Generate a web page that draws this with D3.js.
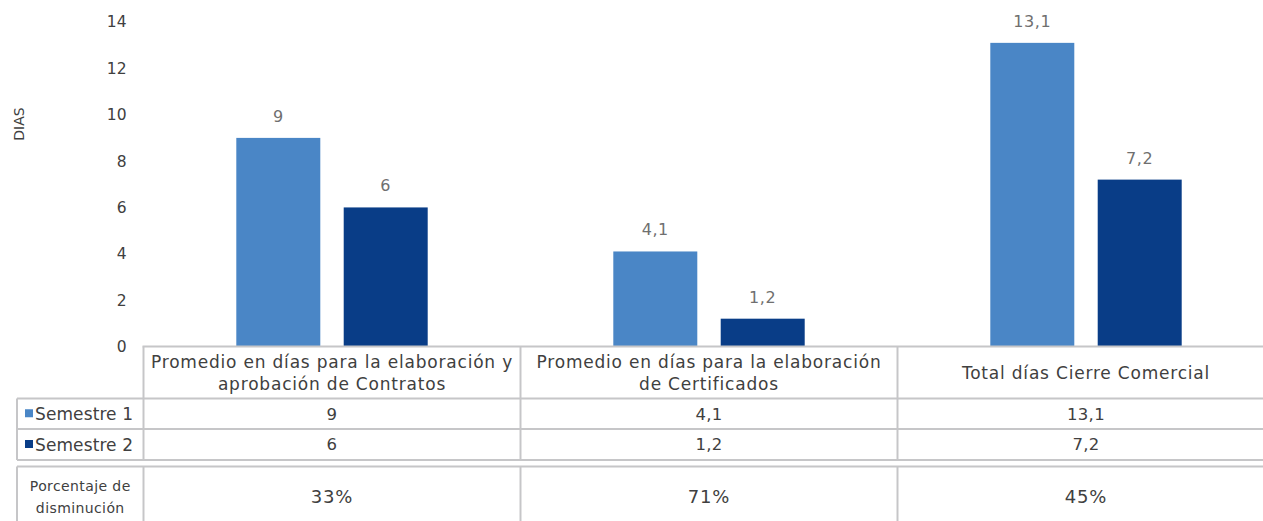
<!DOCTYPE html>
<html>
<head>
<meta charset="utf-8">
<script src="https://cdn.jsdelivr.net/npm/d3@7"></script>
<style>
  html, body { margin: 0; padding: 0; background: #fff; }
  svg { display: block; font-family: "DejaVu Sans", sans-serif; }
</style>
</head>
<body>
<svg id="chart" width="1263" height="521"></svg>
<script>
// data
const categories = [
  ["Promedio en días para la elaboración y", "aprobación de Contratos"],
  ["Promedio en días para la elaboración", "de Certificados"],
  ["Total días Cierre Comercial"]
]
const seriesNames = ["Semestre 1", "Semestre 2"]
const semestre1 = [9, 4.1, 13.1]
const semestre2 = [6, 1.2, 7.2]
const decrease = ["33%", "71%", "45%"]
const yTicks = [0, 2, 4, 6, 8, 10, 12, 14]

const colors = ["#4a86c6", "#093d87"]
const gridColor = "#c6c6c8"
const textColor = "#404040"
const labelColor = "#6f6f6f"

const svg = d3.select("#chart")
const fmt = v => String(v).replace(".", ",")

const dims = {
  left: 143.5,
  right: 1274.5,
  top: 22,
  zero: 346.5,
  tableLeft: 17,
  headerBottom: 398.5,
  row1Bottom: 429,
  row2Bottom: 460,
  table2Top: 466.5,
  table2Bottom: 530
}

const catIdx = categories.map((d, i) => i)
const xScale = d3.scaleBand()
  .domain(catIdx)
  .range([dims.left, dims.right])
  .padding(0)

const xInner = d3.scaleBand()
  .domain(seriesNames)
  .range([0, xScale.bandwidth()])
  .paddingInner(0.218)
  .paddingOuter(0.864)

const yScale = d3.scaleLinear()
  .domain([0, 14])
  .range([dims.zero, dims.top])

// y axis
const yAxis = svg.append("g")
  .attr("transform", `translate(${dims.left},0)`)
  .call(d3.axisLeft(yScale).tickValues(yTicks).tickSize(0).tickPadding(17).tickFormat(d => d))
yAxis.select(".domain").remove()
yAxis.selectAll("text")
  .attr("fill", textColor)
  .style("font-size", "15.5px")
  .style("font-family", "DejaVu Sans, sans-serif")

svg.append("text")
  .attr("transform", `translate(24,124) rotate(-90)`)
  .attr("text-anchor", "middle")
  .attr("fill", textColor)
  .style("font-size", "14px")
  .text("DIAS")

// bars
const seriesData = [semestre1, semestre2]
seriesData.forEach((values, s) => {
  const g = svg.append("g")
  g.selectAll("rect")
    .data(values)
    .join("rect")
      .attr("x", (d, i) => xScale(i) + xInner(seriesNames[s]))
      .attr("y", d => yScale(d))
      .attr("width", xInner.bandwidth())
      .attr("height", d => yScale(0) - yScale(d))
      .attr("fill", colors[s])

  g.selectAll("text")
    .data(values)
    .join("text")
      .attr("x", (d, i) => xScale(i) + xInner(seriesNames[s]) + xInner.bandwidth() / 2)
      .attr("y", d => yScale(d) - 16)
      .attr("text-anchor", "middle")
      .attr("fill", labelColor)
      .style("font-size", "16px")
      .style("letter-spacing", "0.6px")
      .text(d => fmt(d))
})

// data table
const lines = svg.append("g")
  .attr("stroke", gridColor)
  .attr("stroke-width", 2)
  .attr("fill", "none")

const hLine = (x1, x2, y) => lines.append("line").attr("x1", x1).attr("x2", x2).attr("y1", y).attr("y2", y)
const vLine = (x, y1, y2) => lines.append("line").attr("x1", x).attr("x2", x).attr("y1", y1).attr("y2", y2)

hLine(dims.left - 1, dims.right, dims.zero)
hLine(dims.tableLeft, dims.right, dims.headerBottom)
hLine(dims.tableLeft, dims.right, dims.row1Bottom)
hLine(dims.tableLeft, dims.right, dims.row2Bottom)
hLine(dims.tableLeft, dims.right, dims.table2Top)
vLine(dims.tableLeft, dims.headerBottom, dims.row2Bottom)
vLine(dims.tableLeft, dims.table2Top, dims.table2Bottom)
catIdx.forEach(i => {
  vLine(xScale(i), dims.zero, dims.row2Bottom)
  vLine(xScale(i), dims.table2Top, dims.table2Bottom)
})

// header row
const header = svg.append("g")
  .attr("fill", textColor)
  .attr("text-anchor", "middle")
  .style("font-size", "17px")
  .style("letter-spacing", "0.8px")
categories.forEach((lbls, i) => {
  const cx = xScale(i) + xScale.bandwidth() / 2
  const mid = (dims.zero + dims.headerBottom) / 2
  lbls.forEach((t, k) => {
    header.append("text")
      .attr("x", cx)
      .attr("y", mid + (k - (lbls.length - 1) / 2) * 22)
      .attr("dy", "0.36em")
      .text(t)
  })
})

// series rows
const rowBounds = [[dims.headerBottom, dims.row1Bottom], [dims.row1Bottom, dims.row2Bottom]]
seriesData.forEach((values, s) => {
  const mid = (rowBounds[s][0] + rowBounds[s][1]) / 2
  svg.append("rect")
    .attr("x", 25)
    .attr("y", mid - 4.5)
    .attr("width", 8)
    .attr("height", 8)
    .attr("fill", colors[s])
  svg.append("text")
    .attr("x", 35)
    .attr("y", mid)
    .attr("dy", "0.36em")
    .attr("fill", textColor)
    .style("font-size", "17px")
    .style("letter-spacing", "0.1px")
    .text(seriesNames[s])
  svg.append("g").selectAll("text")
    .data(values)
    .join("text")
      .attr("x", (d, i) => xScale(i) + xScale.bandwidth() / 2)
      .attr("y", mid)
      .attr("dy", "0.36em")
      .attr("text-anchor", "middle")
      .attr("fill", textColor)
      .style("font-size", "16.5px")
      .style("letter-spacing", "0.3px")
      .text(d => fmt(d))
})

// percentage table
const t2mid = 497
const pLabel = svg.append("text")
  .attr("x", (dims.tableLeft + dims.left) / 2)
  .attr("text-anchor", "middle")
  .attr("fill", textColor)
  .style("font-size", "14px")
  .style("letter-spacing", "0.4px")
pLabel.append("tspan").attr("x", (dims.tableLeft + dims.left) / 2).attr("y", t2mid - 11).attr("dy", "0.36em").text("Porcentaje de")
pLabel.append("tspan").attr("x", (dims.tableLeft + dims.left) / 2).attr("y", t2mid + 11).attr("dy", "0.36em").text("disminución")

svg.append("g").selectAll("text")
  .data(decrease)
  .join("text")
    .attr("x", (d, i) => xScale(i) + xScale.bandwidth() / 2)
    .attr("y", t2mid)
    .attr("dy", "0.36em")
    .attr("text-anchor", "middle")
    .attr("fill", textColor)
    .style("font-size", "18px")
    .style("letter-spacing", "0.8px")
    .text(d => d)
</script>
</body>
</html>
